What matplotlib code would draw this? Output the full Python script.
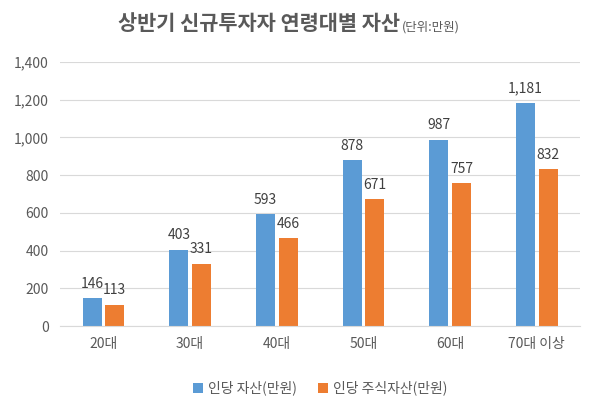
import matplotlib

matplotlib.use("Agg")

import matplotlib.pyplot as plt
import numpy as np

plt.rcParams["font.family"] = ["Noto Sans CJK KR", "DejaVu Sans"]

categories = ["20대", "30대", "40대", "50대", "60대", "70대 이상"]
assets = [146, 403, 593, 878, 987, 1181]
stock_assets = [113, 331, 466, 671, 757, 832]

blue = "#5B9BD5"
orange = "#ED7D31"
text_color = "#595959"

fig = plt.figure(figsize=(5.89, 4.05), dpi=100)
ax = fig.add_axes([0.102, 0.195, 0.883, 0.652])

x = np.arange(len(categories))
w = 0.22
off = w / 2 + 0.02
ax.bar(x - off, assets, w, color=blue, label="인당 자산(만원)")
ax.bar(x + off, stock_assets, w, color=orange, label="인당 주식자산(만원)")

for xi, v in zip(x, assets):
    ax.text(xi - off, v + 40, f"{v:,}", ha="center", va="bottom", fontsize=10, color="#404040")
for xi, v in zip(x, stock_assets):
    ax.text(xi + off, v + 40, f"{v:,}", ha="center", va="bottom", fontsize=10, color="#404040")

ax.set_ylim(0, 1400)
ax.set_xlim(-0.5, len(categories) - 0.5)
ax.set_yticks(range(0, 1401, 200))
ax.set_yticklabels([f"{t:,}" for t in range(0, 1401, 200)])
ax.set_xticks(x)
ax.set_xticklabels(categories)
ax.tick_params(length=0, labelsize=10, colors=text_color, pad=8)
ax.grid(axis="y", color="#D9D9D9", lw=0.8)
ax.set_axisbelow(True)
for s in ["top", "right", "left"]:
    ax.spines[s].set_visible(False)
ax.spines["bottom"].set_color("#D9D9D9")

fig.text(0.200, 0.925, "상반기 신규투자자 연령대별 자산", fontsize=15, color=text_color,
         fontweight="bold", va="baseline", ha="left")
fig.text(0.683, 0.925, "(단위:만원)", fontsize=9, color=text_color, va="baseline", ha="left")

ax.legend(loc="upper center", bbox_to_anchor=(0.5, -0.16), ncol=2, frameon=False,
          fontsize=10, labelcolor=text_color, handlelength=0.7, handleheight=0.7,
          columnspacing=1.5, handletextpad=0.4)

fig.savefig("out.png", dpi=100)
